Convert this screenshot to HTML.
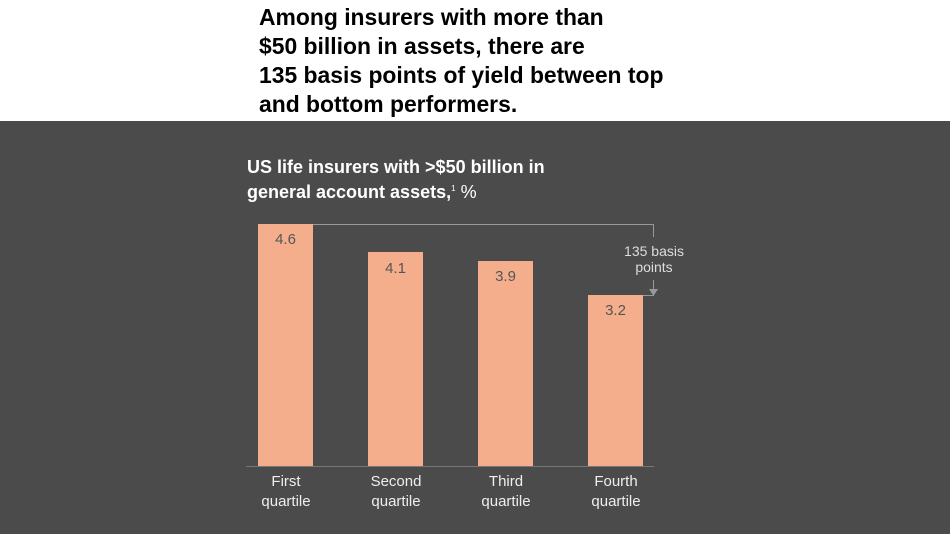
<!DOCTYPE html>
<html><head><style>
body{margin:0;width:950px;height:534px;overflow:hidden;background:#fff;font-family:"Liberation Sans",sans-serif;position:relative}
.h{position:absolute;left:259px;top:3px;font-size:22.9px;font-weight:bold;line-height:29px;color:#000}
.dark{position:absolute;left:0;top:121px;width:950px;height:413px;background:#4b4b4b}
.t{position:absolute;left:247px;top:156px;font-size:18px;font-weight:bold;color:#fff;line-height:22px}
.bar{position:absolute;width:55px;background:#f4ae8c;bottom:68px}
.v{position:absolute;width:55px;text-align:center;font-size:15px;color:#555}
.l{position:absolute;width:90px;text-align:center;font-size:15px;color:#eee;line-height:20px;top:472px}
</style></head><body>
<div class="h">Among insurers with more than<br>$50 billion in assets, there are<br>135 basis points of yield between top<br>and bottom performers.</div>
<div class="dark"></div>
<div class="t">US life insurers with &gt;$50 billion in<br>general account assets,<sup style="font-size:8px;font-weight:normal">1</sup> <span style="font-weight:normal">%</span></div>
<div class="bar" style="left:258px;top:224px"></div>
<div class="bar" style="left:368px;top:252px"></div>
<div class="bar" style="left:478px;top:261px"></div>
<div class="bar" style="left:588px;top:295px"></div>
<div class="v" style="left:258px;top:231px">4.6</div>
<div class="v" style="left:368px;top:260px">4.1</div>
<div class="v" style="left:478px;top:268px">3.9</div>
<div class="v" style="left:588px;top:302px">3.2</div>
<svg style="position:absolute;left:0;top:0" width="950" height="534">
<line x1="246" y1="466.5" x2="654" y2="466.5" stroke="#777" stroke-width="1"/>
<polyline points="313,224.5 653.5,224.5 653.5,237" fill="none" stroke="#999" stroke-width="1"/>
<polyline points="643,295.5 653.5,295.5 653.5,280" fill="none" stroke="#999" stroke-width="1"/>
<polygon points="649,289 658,289 653.5,296" fill="#999"/>
<text x="654" y="256" fill="#ddd" font-size="14" text-anchor="middle" font-family="Liberation Sans">135 basis</text>
<text x="654" y="272" fill="#ddd" font-size="14" text-anchor="middle" font-family="Liberation Sans">points</text>
</svg>
<div class="l" style="left:241px">First<br>quartile</div>
<div class="l" style="left:351px">Second<br>quartile</div>
<div class="l" style="left:461px">Third<br>quartile</div>
<div class="l" style="left:571px">Fourth<br>quartile</div>
</body></html>
